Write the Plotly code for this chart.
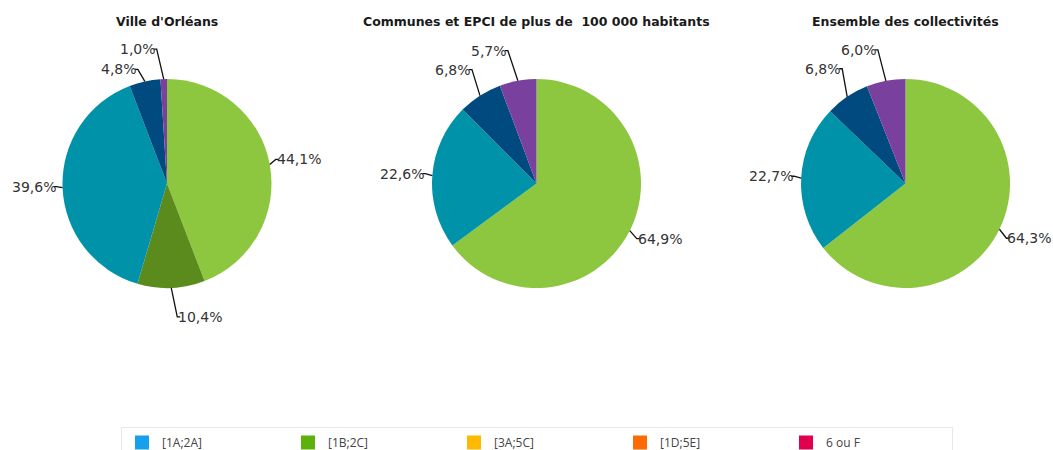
import math
import plotly.graph_objects as go

# ---- data -------------------------------------------------------------
titles = ["Ville d'Orléans",
          "Communes et EPCI de plus de  100 000 habitants",
          "Ensemble des collectivités"]
slice_names = ["Part 1", "Part 2", "Part 3", "Part 4", "Part 5"]
orleans = [44.1, 10.4, 39.6, 4.8, 1.0]
communes_epci = [64.9, 0.0, 22.6, 6.8, 5.7]
ensemble = [64.3, 0.0, 22.7, 6.8, 6.0]
series = [orleans, communes_epci, ensemble]

legend_labels = ["[1A;2A]", "[1B;2C]", "[3A;5C]", "[1D;5E]", "6 ou F"]

# ---- styles -----------------------------------------------------------
W, H = 1053, 450
slice_colors = ["#8dc63f", "#5b8a1d", "#0092a8", "#004a7f", "#7a409e"]
legend_colors = ["#16a0ec", "#5cb10a", "#ffb900", "#ff6a00", "#e0004d"]

pie_cx = [167, 536.5, 905.5]   # pie centres (px)
pie_cy = 183.5
pie_r = 104.5

# offset (px) from the slice edge to the end of its leader line
label_offsets = [
    [(6, -5), (6, 29), (-6, -1), (-7, -12), (-7, -30)],
    [(7, 8), None, (-7, -2), (-8, -26), (-10, -30)],
    [(7, 9), None, (-7, -2), (-5, -28), (-8, -31)],
]


def px_to_paper(x, y):
    return x / W, 1 - y / H


fig = go.Figure()
shapes = []
annotations = []

for i, values in enumerate(series):
    cx = pie_cx[i]
    x0, _ = px_to_paper(cx - pie_r, 0)
    x1, _ = px_to_paper(cx + pie_r, 0)
    _, y1 = px_to_paper(0, pie_cy - pie_r)
    _, y0 = px_to_paper(0, pie_cy + pie_r)
    fig.add_trace(go.Pie(
        labels=slice_names, values=values, sort=False,
        direction="clockwise", rotation=0,
        marker=dict(colors=slice_colors, line=dict(width=0)),
        textinfo="none", hoverinfo="label+percent",
        domain=dict(x=[x0, x1], y=[y0, y1]),
        showlegend=False,
    ))

    # title above each pie
    tx, ty = px_to_paper(cx, 22)
    annotations.append(dict(
        x=tx, y=ty, xref="paper", yref="paper", text="<b>%s</b>" % titles[i],
        showarrow=False, xanchor="center", yanchor="middle",
        font=dict(family="DejaVu Sans", size=12.5, color="#1a1a1a"),
    ))

    # percentage labels with leader lines
    total = sum(values)
    cum = 0.0
    for j, v in enumerate(values):
        if v <= 0:
            continue
        mid = (cum + v / 2) / total * 2 * math.pi
        cum += v
        ex = cx + pie_r * math.sin(mid)
        ey = pie_cy - pie_r * math.cos(mid)
        dx, dy = label_offsets[i][j]
        lx, ly = ex + dx, ey + dy
        side = 1 if dx > 0 else -1
        hx = lx + side * 3
        p0 = px_to_paper(ex, ey)
        p1 = px_to_paper(lx, ly)
        p2 = px_to_paper(hx, ly)
        shapes.append(dict(
            type="path", xref="paper", yref="paper",
            path="M %f %f L %f %f L %f %f" % (p0[0], p0[1], p1[0], p1[1], p2[0], p2[1]),
            line=dict(color="#111111", width=1.3),
        ))
        tp = px_to_paper(lx - side * 1, ly)
        label = ("%.1f%%" % v).replace(".", ",")
        annotations.append(dict(
            x=tp[0], y=tp[1], xref="paper", yref="paper", text=label,
            showarrow=False, xanchor="left" if side > 0 else "right",
            yanchor="middle",
            font=dict(family="DejaVu Sans", size=14, color="#333333"),
        ))

# legend entries (square markers)
for name, color in zip(legend_labels, legend_colors):
    fig.add_trace(go.Scatter(
        x=[None], y=[None], mode="markers", name=name,
        marker=dict(symbol="square", size=14, color=color),
        showlegend=True,
    ))

fig.update_layout(
    width=W, height=H,
    margin=dict(l=0, r=0, t=0, b=0, autoexpand=False),
    paper_bgcolor="white", plot_bgcolor="white",
    xaxis=dict(visible=False), yaxis=dict(visible=False),
    shapes=shapes, annotations=annotations,
    legend=dict(
        orientation="h", x=121 / W, y=1 - 427 / H,
        xanchor="left", yanchor="top",
        entrywidth=121, entrywidthmode="pixels",
        bordercolor="#e8e8e8", borderwidth=1,
        font=dict(family="Open Sans", size=12, color="#444444"),
        itemsizing="trace", itemclick=False, itemdoubleclick=False,
    ),
)

fig.write_html("out.html")
